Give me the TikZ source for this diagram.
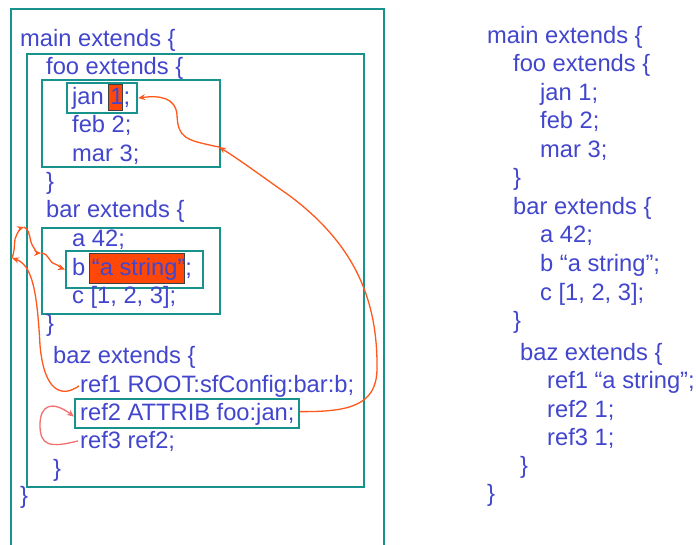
\documentclass[tikz,border=0pt]{standalone}
\usepackage{fontspec}
\setmainfont{Liberation Sans}
\usetikzlibrary{arrows.meta}
\definecolor{tealbox}{RGB}{24,146,140}
\definecolor{codeblue}{RGB}{66,70,205}
\definecolor{refor}{RGB}{255,88,28}
\definecolor{salmon}{RGB}{242,112,112}
\definecolor{hilite}{RGB}{255,72,8}
\begin{document}
\begin{tikzpicture}[x=1pt,y=-1pt,
  box/.style={draw=tealbox,line width=2.2pt,minimum width=#1,anchor=north west,inner sep=0pt},
  code/.style={anchor=base west,inner sep=0pt,text=codeblue,font=\fontsize{23.7}{28}\selectfont},
  hl/.style={fill=hilite,draw=black!75,line width=1pt},
  refarrow/.style={draw=refor,line width=1.3pt,-{Stealth[length=7pt,width=6pt]}},
  selfarrow/.style={draw=salmon,line width=1.3pt,-{Stealth[length=7pt,width=6pt]}}]
\useasboundingbox (0,0) rectangle (696,544);
\clip (0,0) rectangle (696,544);
\fill[white] (0,0) rectangle (696,544);

% boxes
\node[box=373pt,minimum height=560pt] (rootbox) at (10,8) {};
\node[box=337pt,minimum height=433pt] (mainbox) at (26,53) {};
\node[box=178pt,minimum height=87pt] (foobox) at (41,79) {};
\node[box=70pt,minimum height=30pt] (janbox) at (66,82) {};
\node[box=178pt,minimum height=86pt] (barbox) at (41,227) {};
\node[box=137pt,minimum height=37pt] (bbox) at (65,250) {};
\node[box=224pt,minimum height=29pt] (ref2box) at (74,398) {};

% highlights
\node[hl,minimum width=14pt,minimum height=26pt,anchor=north west,inner sep=0pt] (onehl) at (108,84) {};
\node[hl,minimum width=95pt,minimum height=30pt,anchor=north west,inner sep=0pt] (strhl) at (89,253) {};

% left code
\node[code] (l1) at (20,46) {main extends \{};
\node[code] (l2) at (46,74) {foo extends \{};
\node[code] (l3) at (72,104) {jan 1;};
\node[code] (l4) at (72,132) {feb 2;};
\node[code] (l5) at (72,161) {mar 3;};
\node[code] (l6) at (46,189) {\}};
\node[code] (l7) at (46,217) {bar extends \{};
\node[code] (l8) at (72,246) {a 42;};
\node[code] (l9) at (72,275) {b “a string”;};
\node[code] (l10) at (72,303) {c [1, 2, 3];};
\node[code] (l11) at (46,331) {\}};
\node[code] (l12) at (53,363) {baz extends \{};
\node[code] (ref1) at (80,392) {ref1 ROOT:sfConfig:bar:b;};
\node[code] (ref2) at (80,420) {ref2 ATTRIB foo:jan;};
\node[code] (ref3) at (80,448) {ref3 ref2;};
\node[code] (l16) at (53,476) {\}};
\node[code] (l17) at (20,503) {\}};

% right code
\node[code] (r1) at (487,43) {main extends \{};
\node[code] (r2) at (513,71) {foo extends \{};
\node[code] (r3) at (540,100) {jan 1;};
\node[code] (r4) at (540,128) {feb 2;};
\node[code] (r5) at (540,157) {mar 3;};
\node[code] (r6) at (513,185) {\}};
\node[code] (r7) at (513,214) {bar extends \{};
\node[code] (r8) at (540,242) {a 42;};
\node[code] (r9) at (540,271) {b “a string”;};
\node[code] (r10) at (540,300) {c [1, 2, 3];};
\node[code] (r11) at (513,328) {\}};
\node[code] (r12) at (520,360) {baz extends \{};
\node[code] (r13) at (547,388) {ref1 “a string”;};
\node[code] (r14) at (547,417) {ref2 1;};
\node[code] (r15) at (547,445) {ref3 1;};
\node[code] (r16) at (520,473) {\}};
\node[code] (r17) at (487,501) {\}};

% connector points
\coordinate (fooin) at (219,147);
\coordinate (rootin) at (12,258);
\coordinate (mainin) at (24,227);
\coordinate (barin) at (41,253);

% ref2 -> foo -> jan
\draw[refarrow] ([yshift=2pt]ref2box.east) .. controls (350,412) and (376,405) .. (377,370)
   .. controls (378,300) and (355,245) .. (290,196)
   .. controls (260,175) and (240,160) .. (fooin);
\draw[refarrow] (fooin) .. controls (185,140) and (178,138) .. (177,115)
   .. controls (176,98) and (160,95) .. (janbox.east);

% ref1 -> root -> main -> bar -> b
\draw[refarrow] ([xshift=-1pt]ref1.west) .. controls (62,398) and (44,392) .. (40,345)
   .. controls (37,290) and (32,265) .. (rootin);
\draw[refarrow] (rootin) .. controls (16,248) and (13,240) .. (17,234)
   .. controls (19,230) and (21,228) .. (mainin);
\draw[refarrow] (mainin) .. controls (32,232) and (28,240) .. (34,248)
   .. controls (36,252) and (38,253) .. (barin);
\draw[refarrow] (barin) .. controls (50,254) and (48,262) .. (55,264)
   .. controls (60,266) and (61,268) .. (bbox.west);

% ref3 -> ref2
\draw[selfarrow] ([xshift=-2pt]ref3.west) .. controls (50,448) and (40,446) .. (40,425)
   .. controls (40,405) and (52,400) .. ([yshift=-3pt]ref2box.west);
\end{tikzpicture}
\end{document}
